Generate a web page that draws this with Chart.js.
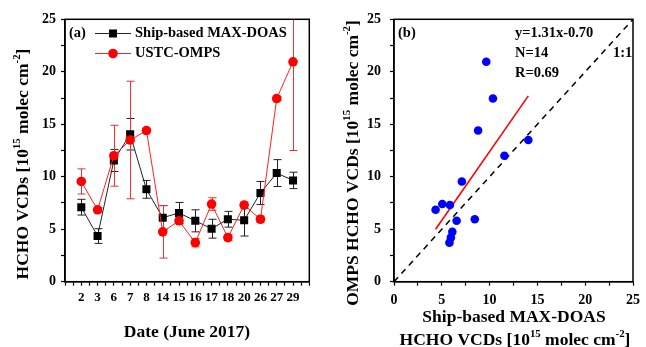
<!DOCTYPE html>
<html>
<head>
<meta charset="utf-8">
<script src="https://cdn.jsdelivr.net/npm/chart.js@4.4.1/dist/chart.umd.min.js"></script>
<style>
  body { margin: 0; background: #fff; }
  #wrap { position: relative; width: 646px; height: 347px; }
  #wrap canvas { position: absolute; top: 0; }
</style>
</head>
<body>
<div id="wrap">
  <canvas id="seriesChart" width="323" height="347" style="left:0"></canvas>
  <canvas id="scatterChart" width="323" height="347" style="left:323px"></canvas>
</div>
<script>
// June 2017 observation days
const dates = ['2', '3', '6', '7', '8', '14', '15', '16', '17', '18', '20', '26', '27', '29'];

// HCHO VCDs, 10^15 molec cm^-2
const maxdoas = [7.1, 4.35, 11.55, 14.05, 8.8, 6.1, 6.55, 5.8, 5.05, 5.95, 5.85, 8.45, 10.35, 9.65];
const maxdoasErr = [0.75, 0.7, 1.05, 1.5, 0.85, 1.15, 1.0, 1.05, 0.9, 0.75, 1.5, 1.1, 1.28, 0.78];
const omps = [9.55, 6.85, 12.0, 13.5, 14.4, 4.75, 5.8, 3.72, 7.4, 4.2, 7.3, 5.95, 17.45, 20.95];
const ompsErr = [1.2, 0.2, 2.9, 5.6, 0.2, 2.5, 0.3, 0.4, 0.6, 0.3, 0.3, 0.3, 0.2, 8.45];

// linear regression of OMPS against MAX-DOAS
const fitSlope = 1.31;
const fitIntercept = -0.70;
const fitR = 0.69;
const oneToOne = [0, 25];

const FONT = '"Liberation Serif", "Times New Roman", serif';

function drawRich(ctx, parts, cx, cy, size, angle) {
    ctx.save();
    ctx.translate(cx, cy);
    ctx.rotate(angle || 0);
    ctx.fillStyle = '#000';
    ctx.textBaseline = 'middle';
    ctx.textAlign = 'left';
    const fontFor = sup => `bold ${sup ? size * 0.62 : size}px ${FONT}`;
    let total = 0;
    parts.forEach(([t, sup]) => { ctx.font = fontFor(sup); total += ctx.measureText(t).width; });
    let xx = -total / 2;
    parts.forEach(([t, sup]) => {
        ctx.font = fontFor(sup);
        ctx.fillText(t, xx, sup ? -size * 0.36 : 0);
        xx += ctx.measureText(t).width;
    });
    ctx.restore();
}

function text(ctx, str, x, y, size) {
    ctx.save();
    ctx.font = `bold ${size}px ${FONT}`;
    ctx.fillStyle = '#000';
    ctx.textBaseline = 'middle';
    ctx.fillText(str, x, y);
    ctx.restore();
}

const vcdUnit = [['HCHO VCDs [10'], ['15', true], [' molec cm'], ['-2', true], [']']];

// ===============================
// error bars + frame
// ===============================
const errorBars = {
    id: 'errorBars',
    beforeDatasetsDraw(chart) {
        const { ctx, chartArea: a, scales: { x, y } } = chart;
        ctx.save();
        ctx.beginPath();
        ctx.rect(a.left, a.top, a.right - a.left, a.bottom - a.top);
        ctx.clip();
        chart.data.datasets.forEach(ds => {
            if (!ds.errors) return;
            ctx.strokeStyle = ds.errorColor;
            ctx.lineWidth = 1;
            ds.data.forEach((p, i) => {
                const px = Math.round(x.getPixelForValue(p.x)) + 0.5;
                const top = y.getPixelForValue(p.y + ds.errors[i]);
                const bot = y.getPixelForValue(p.y - ds.errors[i]);
                ctx.beginPath();
                ctx.moveTo(px, top); ctx.lineTo(px, bot);
                ctx.moveTo(px - 4, top); ctx.lineTo(px + 4, top);
                ctx.moveTo(px - 4, bot); ctx.lineTo(px + 4, bot);
                ctx.stroke();
            });
        });
        ctx.restore();
    }
};

const frame = {
    id: 'frame',
    afterDraw(chart) {
        const { ctx, chartArea: a } = chart;
        ctx.save();
        ctx.strokeStyle = '#000';
        ctx.lineWidth = 1.5;
        ctx.strokeRect(a.left, a.top, a.right - a.left, a.bottom - a.top);
        ctx.restore();
    }
};

function axis(opts) {
    return Object.assign({
        type: 'linear',
        border: { color: '#000', width: 1.5 },
        grid: { drawOnChartArea: false, tickLength: 4, tickColor: '#000', tickWidth: 1.2 },
    }, opts);
}

const tickFont = { family: FONT, weight: 'bold', size: 14 };
const every5 = v => (v % 5 === 0 ? v : '');

// ===============================
// (a) time series
// ===============================
new Chart(document.getElementById('seriesChart'), {
    type: 'line',
    data: {
        datasets: [{
            label: 'Ship-based MAX-DOAS',
            data: maxdoas.map((v, i) => ({ x: i, y: v })),
            errors: maxdoasErr,
            errorColor: '#222',
            borderColor: '#222',
            borderWidth: 1,
            pointStyle: 'rect',
            pointRadius: 5.7,
            pointBackgroundColor: '#000',
            pointBorderColor: '#000',
            pointBorderWidth: 0,
            order: 2
        }, {
            label: 'USTC-OMPS',
            data: omps.map((v, i) => ({ x: i, y: v })),
            errors: ompsErr,
            errorColor: '#f03030',
            borderColor: '#ff2020',
            borderWidth: 1,
            pointStyle: 'circle',
            pointRadius: 4.8,
            pointBackgroundColor: '#ff0000',
            pointBorderColor: '#ff0000',
            pointBorderWidth: 0,
            order: 1
        }]
    },
    options: {
        responsive: false,
        animation: false,
        devicePixelRatio: 1,
        layout: { padding: { left: 0, right: 13.7, top: 19.3, bottom: 0 } },
        plugins: { legend: { display: false }, tooltip: { enabled: false } },
        scales: {
            x: axis({
                min: -1, max: 14,
                afterFit: s => { s.height = 65.3; },
                ticks: {
                    stepSize: 0.5, autoSkip: false, maxRotation: 0, minRotation: 0,
                    color: '#000', padding: 4,
                    font: { family: FONT, weight: 'bold', size: 13 },
                    callback: v => (Number.isInteger(v) && v >= 0 && v < dates.length ? dates[v] : '')
                }
            }),
            y: axis({
                min: 0, max: 25,
                afterFit: s => { s.width = 65; },
                ticks: { stepSize: 2.5, color: '#000', padding: 5, font: tickFont, callback: every5 }
            })
        }
    },
    plugins: [errorBars, frame, {
        id: 'labelsA',
        afterDraw(chart) {
            const ctx = chart.ctx;
            drawRich(ctx, vcdUnit, 23, 164, 17.5, -Math.PI / 2);
            drawRich(ctx, [['Date (June 2017)']], 187, 332, 17.5, 0);
            text(ctx, '(a)', 69, 33.5, 14.5);

            // legend
            ctx.save();
            ctx.lineWidth = 1;
            ctx.strokeStyle = '#222';
            ctx.beginPath(); ctx.moveTo(95, 33.5); ctx.lineTo(131, 33.5); ctx.stroke();
            ctx.fillStyle = '#000';
            ctx.fillRect(109, 29.5, 8, 8);
            ctx.strokeStyle = '#ff2020';
            ctx.beginPath(); ctx.moveTo(95, 53.5); ctx.lineTo(131, 53.5); ctx.stroke();
            ctx.fillStyle = '#ff0000';
            ctx.beginPath(); ctx.arc(113, 53.5, 4.8, 0, Math.PI * 2); ctx.fill();
            ctx.restore();
            text(ctx, chart.data.datasets[0].label, 135, 33.5, 14.5);
            text(ctx, chart.data.datasets[1].label, 135, 53.5, 14.5);
        }
    }]
});

// ===============================
// (b) OMPS vs MAX-DOAS scatter
// ===============================
const fitX = [Math.min(...maxdoas), Math.max(...maxdoas)];

new Chart(document.getElementById('scatterChart'), {
    type: 'scatter',
    data: {
        datasets: [{
            data: maxdoas.map((v, i) => ({ x: v, y: omps[i] })),
            pointRadius: 4.3,
            pointBackgroundColor: '#0000ff',
            pointBorderWidth: 0,
            order: 1
        }, {
            data: fitX.map(x => ({ x, y: fitSlope * x + fitIntercept })),
            showLine: true,
            borderColor: '#ff0000',
            borderWidth: 1.6,
            pointRadius: 0,
            order: 2
        }, {
            data: oneToOne.map(v => ({ x: v, y: v })),
            showLine: true,
            borderColor: '#000',
            borderWidth: 1.5,
            borderDash: [6, 5],
            pointRadius: 0,
            order: 3
        }]
    },
    options: {
        responsive: false,
        animation: false,
        devicePixelRatio: 1,
        layout: { padding: { left: 0, right: 8, top: 19.3, bottom: 0 } },
        plugins: { legend: { display: false }, tooltip: { enabled: false } },
        scales: {
            x: axis({
                min: 0, max: 25,
                afterFit: s => { s.height = 65.3; },
                ticks: { stepSize: 2.5, autoSkip: false, maxRotation: 0, color: '#000', padding: 6, font: tickFont, callback: every5 }
            }),
            y: axis({
                min: 0, max: 25,
                afterFit: s => { s.width = 71; },
                ticks: { stepSize: 2.5, color: '#000', padding: 9, font: tickFont, callback: every5 }
            })
        }
    },
    plugins: [frame, {
        id: 'labelsB',
        afterDraw(chart) {
            const ctx = chart.ctx;
            drawRich(ctx, [['OMPS ']].concat(vcdUnit), 30, 163, 17.5, -Math.PI / 2);
            drawRich(ctx, [['Ship-based MAX-DOAS']], 191, 317, 17.5, 0);
            drawRich(ctx, vcdUnit, 192, 340, 17.5, 0);
            text(ctx, '(b)', 75, 33.5, 14.5);
            text(ctx, `y=${fitSlope.toFixed(2)}x${fitIntercept.toFixed(2)}`, 192, 33.5, 14.5);
            text(ctx, `N=${maxdoas.length}`, 192, 53.5, 14.5);
            text(ctx, `R=${fitR.toFixed(2)}`, 192, 73.5, 14.5);
            text(ctx, '1:1', 290, 53.5, 14.5);
        }
    }]
});
</script>
</body>
</html>
